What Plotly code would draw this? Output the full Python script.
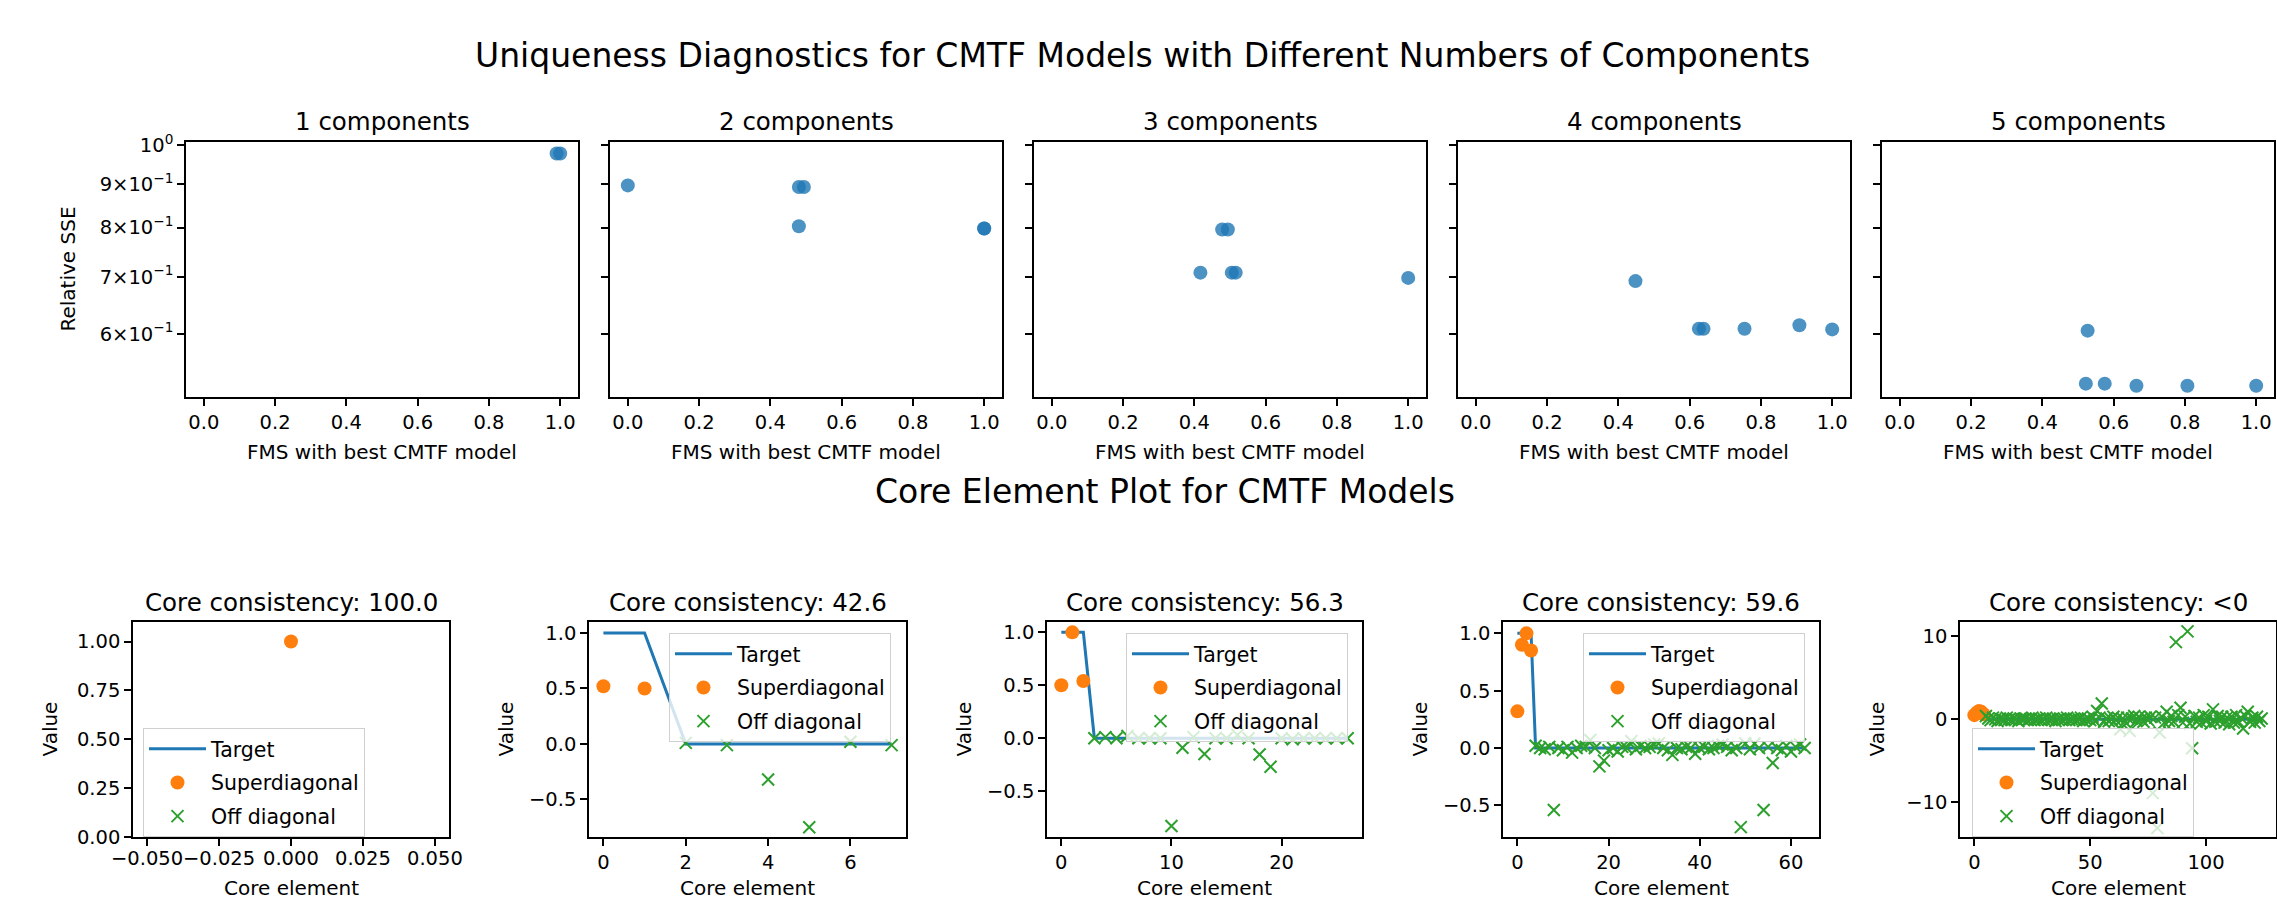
import plotly.graph_objects as go

W, H = 2277, 905
FONT = "DejaVu Sans"
BLUE = "#1f77b4"
ORANGE = "#ff7f0e"
GREEN = "#2ca02c"

# ---------------- Top row: uniqueness diagnostics ----------------
top_titles = ["1 components", "2 components", "3 components", "4 components", "5 components"]
fms_1 = [0.99, 1.0]
sse_1 = [0.978, 0.978]
fms_2 = [0.0, 0.480, 0.494, 0.480, 1.0, 1.0]
sse_2 = [0.897, 0.893, 0.893, 0.803, 0.798, 0.798]
fms_3 = [0.478, 0.494, 0.417, 0.505, 0.516, 1.0]
sse_3 = [0.796, 0.796, 0.708, 0.708, 0.708, 0.698]
fms_4 = [0.448, 0.626, 0.639, 0.754, 0.908, 1.0]
sse_4 = [0.692, 0.608, 0.608, 0.608, 0.614, 0.607]
fms_5 = [0.527, 0.522, 0.575, 0.664, 0.807, 1.0]
sse_5 = [0.605, 0.524, 0.524, 0.521, 0.521, 0.521]
top_fms = [fms_1, fms_2, fms_3, fms_4, fms_5]
top_sse = [sse_1, sse_2, sse_3, sse_4, sse_5]
sse_tickvals = [1.0, 0.9, 0.8, 0.7, 0.6]
sse_ticktext = ["10<sup>0</sup>", "9×10<sup>−1</sup>", "8×10<sup>−1</sup>",
                "7×10<sup>−1</sup>", "6×10<sup>−1</sup>"]
fms_ticks = [0.0, 0.2, 0.4, 0.6, 0.8, 1.0]

# ---------------- Bottom row: core element plots ----------------
core_titles = ["Core consistency: 100.0", "Core consistency: 42.6", "Core consistency: 56.3",
               "Core consistency: 59.6", "Core consistency: <0"]
super_1 = [1.0]
off_1 = []
super_2 = [0.52, 0.50]
off_2 = [0.01, -0.01, -0.32, -0.75, 0.02, -0.01]
super_3 = [0.50, 1.00, 0.54]
off_3 = [0.0, 0.01, 0.0, 0.02, 0.0, 0.0, 0.0, -0.83, -0.09, 0.01, -0.15, 0.0,
         0.0, 0.03, 0.0, -0.155, -0.27, 0.0, -0.01, 0.0, 0.0, 0.0, 0.0, 0.0]
super_4 = [0.32, 0.90, 1.00, 0.85]
off_4 = [0.02, 0.0, -0.01, 0.01, -0.54, 0.0, -0.02, 0.01, -0.04, 0.0,
         0.02, 0.01, 0.07, 0.0, -0.16, -0.11, -0.02, 0.0, -0.03, 0.01,
         0.0, 0.06, -0.01, 0.02, 0.0, 0.01, 0.03, 0.04, 0.0, -0.02,
         -0.06, 0.0, -0.01, 0.01, 0.0, -0.05, 0.0, 0.01, -0.01, 0.0,
         0.02, 0.03, 0.01, -0.02, 0.0, -0.69, 0.04, -0.01, 0.04, 0.0,
         -0.54, 0.01, -0.13, 0.0, -0.02, 0.02, -0.03, 0.01, 0.03, 0.0]
super_5 = [0.5, 0.8, 1.0, 0.9, 0.6]
off_5 = [0.4, 0.1, -0.1, 0.2, 0.0, -0.2, 0.1, 0.0, -0.1, 0.2,
         0.0, -0.1, 0.1, 0.0, -0.2, 0.1, 0.0, 0.1, -0.1, 0.0,
         0.2, -0.1, 0.0, 0.1, -0.1, 0.0, 0.2, -0.1, 0.0, 0.1,
         -0.2, 0.0, 0.1, -0.1, 0.0, 0.2, -0.1, 0.0, 0.1, -0.1,
         0.0, 0.2, -0.2, 0.0, 0.1, -0.1, 0.3, -0.2, 1.0, 0.2,
         1.9, -0.3, 0.1, -0.2, 0.0, 0.3, -0.1, 0.2, -1.2, 0.1,
         -0.3, 0.2, -1.4, 0.1, 0.4, -0.2, 0.3, 0.0, -0.3, 0.2,
         -0.1, 0.3, -8.9, 0.2, -13.1, -1.6, 0.3, -0.4, 0.9, -0.2,
         0.4, -0.3, 9.3, 0.5, 1.4, -0.4, 0.3, 10.6, -0.5, -3.5,
         0.4, -0.3, 0.2, -0.4, 0.5, -0.2, 0.3, -0.5, 1.2, -0.3,
         0.4, -0.2, 0.3, -0.4, 0.2, -0.6, 0.3, -0.4, 0.5, -0.3,
         0.2, -1.1, 0.4, 0.9, -0.3, 0.2, -0.4, 0.3, -0.2, 0.1]
supers = [super_1, super_2, super_3, super_4, super_5]
offs = [off_1, off_2, off_3, off_4, off_5]

core_xranges = [[-0.055, 0.055], [-0.35, 7.35], [-1.3, 27.3], [-3.15, 66.15], [-6.2, 130.2]]
core_yranges = [[0.0, 1.1], [-0.838, 1.099], [-0.934, 1.098], [-0.776, 1.099], [-14.19, 11.73]]
core_xticks = [[-0.05, -0.025, 0.0, 0.025, 0.05], [0, 2, 4, 6], [0, 10, 20], [0, 20, 40, 60], [0, 50, 100]]
core_xticktext = [["−0.050", "−0.025", "0.000", "0.025", "0.050"], ["0", "2", "4", "6"],
                  ["0", "10", "20"], ["0", "20", "40", "60"], ["0", "50", "100"]]
core_yticks = [[0.0, 0.25, 0.5, 0.75, 1.0], [-0.5, 0.0, 0.5, 1.0], [-0.5, 0.0, 0.5, 1.0],
               [-0.5, 0.0, 0.5, 1.0], [-10, 0, 10]]
core_yticktext = [["0.00", "0.25", "0.50", "0.75", "1.00"], ["−0.5", "0.0", "0.5", "1.0"],
                  ["−0.5", "0.0", "0.5", "1.0"], ["−0.5", "0.0", "0.5", "1.0"], ["−10", "0", "10"]]

# ---------------- layout geometry (pixels) ----------------
top_boxes = [(186, 578), (610, 1002), (1034, 1426), (1458, 1850), (1882, 2274)]
top_y = (142, 397)
bot_boxes = [(133, 449), (589, 906), (1047, 1362), (1503, 1819), (1960, 2276)]
bot_y = (622, 837)
legend_pos = [(143, 728), (669, 633), (1126, 633), (1583, 633), (1972, 728)]
TICK_SIZE = 19.5


def xd(a, b):
    return [a / W, b / W]


def yd(t, b):
    return [1 - b / H, 1 - t / H]


axis_common = dict(showgrid=False, zeroline=False, showline=True, linecolor="black",
                   linewidth=1.5, mirror=True, ticks="outside", ticklen=7, tickwidth=1.5,
                   tickcolor="black", tickangle=0, automargin=False,
                   tickfont=dict(family=FONT, size=TICK_SIZE, color="black"))

fig = go.Figure()
layout = dict(width=W, height=H, margin=dict(l=0, r=0, t=0, b=0, pad=0, autoexpand=False),
              plot_bgcolor="white", paper_bgcolor="white",
              font=dict(family=FONT, color="black"))
annotations = []


def ann(text, x, y, size, angle=0):
    annotations.append(dict(text=text, x=x / W, y=1 - y / H, xref="paper", yref="paper",
                            showarrow=False, xanchor="center", yanchor="middle",
                            textangle=angle, font=dict(family=FONT, size=size, color="black")))


# Top row
for i in range(5):
    k = i + 1
    xa = "x" if k == 1 else f"x{k}"
    ya = "y" if k == 1 else f"y{k}"
    fig.add_trace(go.Scatter(x=top_fms[i], y=top_sse[i], mode="markers", xaxis=xa, yaxis=ya,
                             marker=dict(color=BLUE, size=14, opacity=0.8, line=dict(width=0)),
                             showlegend=False))
    l, r = top_boxes[i]
    layout[f"xaxis{k}"] = dict(axis_common, domain=xd(l, r), anchor=ya, range=[-0.05, 1.05],
                               tickmode="array", tickvals=fms_ticks,
                               ticktext=[f"{v:.1f}" for v in fms_ticks])
    layout[f"yaxis{k}"] = dict(axis_common, domain=yd(*top_y), anchor=xa, type="log",
                               range=[-0.2964, 0.0039], tickmode="array", tickvals=sse_tickvals,
                               ticktext=sse_ticktext, showticklabels=(k == 1))
    ann(top_titles[i], (l + r) / 2, 121, 24.5)
    ann("FMS with best CMTF model", (l + r) / 2, 452, 20)
ann("Relative SSE", 67, (top_y[0] + top_y[1]) / 2, 20, -90)

# Bottom row
for i in range(5):
    k = i + 6
    xa = f"x{k}"
    ya = f"y{k}"
    lg = "legend" if i == 0 else f"legend{i + 1}"
    R = len(supers[i])
    n = R ** 3
    target = [1.0] * R + [0.0] * (n - R)
    off_x = list(range(R, R + len(offs[i])))
    off_y = list(offs[i])
    if not off_y:
        off_x, off_y = [None], [None]
    fig.add_trace(go.Scatter(x=list(range(n)), y=target, mode="lines", xaxis=xa, yaxis=ya,
                             line=dict(color=BLUE, width=3), name="Target", legend=lg,
                             legendgroup=f"t{i}"))
    fig.add_trace(go.Scatter(x=list(range(R)), y=supers[i], mode="markers", xaxis=xa, yaxis=ya,
                             marker=dict(color=ORANGE, size=14, line=dict(width=0)),
                             name="Superdiagonal", legend=lg, legendgroup=f"s{i}"))
    fig.add_trace(go.Scatter(x=off_x, y=off_y, mode="markers",
                             xaxis=xa, yaxis=ya,
                             marker=dict(symbol="x-thin", size=12, color=GREEN,
                                         line=dict(color=GREEN, width=2)),
                             name="Off diagonal", legend=lg, legendgroup=f"o{i}"))
    l, r = bot_boxes[i]
    # the first panel's crowded x tick labels are written as axis-anchored texts so that
    # none of them is dropped for touching its neighbour (as in the reference)
    crowded = (i == 0)
    layout[f"xaxis{k}"] = dict(axis_common, domain=xd(l, r), anchor=ya, range=core_xranges[i],
                               tickmode="array", tickvals=core_xticks[i], ticktext=core_xticktext[i],
                               showticklabels=not crowded)
    if crowded:
        for tv, tt in zip(core_xticks[i], core_xticktext[i]):
            annotations.append(dict(text=tt, x=tv, xref=xa, y=1 - 858 / H, yref="paper",
                                    showarrow=False, xanchor="center", yanchor="middle",
                                    font=dict(family=FONT, size=TICK_SIZE, color="black")))
    layout[f"yaxis{k}"] = dict(axis_common, domain=yd(*bot_y), anchor=xa, range=core_yranges[i],
                               tickmode="array", tickvals=core_yticks[i], ticktext=core_yticktext[i])
    lx, ly = legend_pos[i]
    layout[lg] = dict(x=lx / W, y=1 - ly / H, xanchor="left", yanchor="top",
                      bgcolor="rgba(255,255,255,0.8)", bordercolor="#d0d0d0", borderwidth=1,
                      font=dict(family=FONT, size=20.5, color="black"), itemwidth=57,
                      tracegroupgap=4, traceorder="grouped")
    ann(core_titles[i], (l + r) / 2, 602, 24.5)
    ann("Core element", (l + r) / 2, 888, 20)
    ann("Value", l - 84, (bot_y[0] + bot_y[1]) / 2, 20, -90)

ann("Uniqueness Diagnostics for CMTF Models with Different Numbers of Components", 1142, 56, 33)
ann("Core Element Plot for CMTF Models", 1165, 491, 33)

layout["annotations"] = annotations
fig.update_layout(**layout)
fig.write_html("out.html")
